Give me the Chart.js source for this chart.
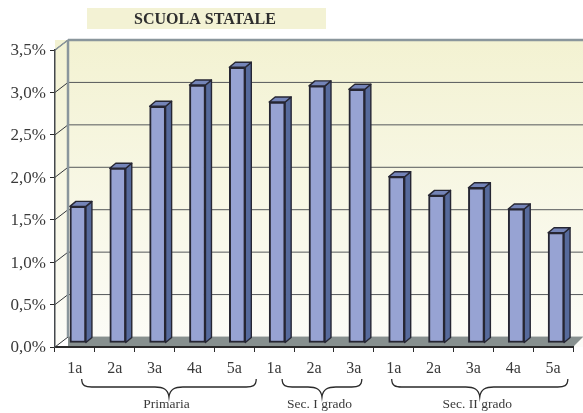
<!DOCTYPE html>
<html>
<head>
<meta charset="utf-8">
<title>Scuola statale</title>
<script src="https://cdn.jsdelivr.net/npm/chart.js@4/dist/chart.umd.min.js"></script>
<style>
  html, body { margin: 0; padding: 0; background: #fff; }
  canvas { display: block; }
</style>
</head>
<body>
<canvas id="chart" width="583" height="413"></canvas>
<script>
const categories = ["1a", "2a", "3a", "4a", "5a", "1a", "2a", "3a", "1a", "2a", "3a", "4a", "5a"];
const values = [1.61, 2.06, 2.79, 3.04, 3.25, 2.84, 3.03, 2.99, 1.96, 1.74, 1.83, 1.58, 1.30];
const yTickLabels = ["0,0%", "0,5%", "1,0%", "1,5%", "2,0%", "2,5%", "3,0%", "3,5%"];
const titleText = "SCUOLA STATALE";
const groupNames = ["Primaria", "Sec. I grado", "Sec. II grado"];
const groupFrom = [0.17, 5.2, 7.95];
const groupTo = [4.55, 7.2, 12.37];

const serif = "'Liberation Serif', serif";
const textColor = "#3a3a3a";
const edgeColor = "#262633";
// depth of the fake 3d box
const wallDx = 13, wallDy = 10;
const barShiftX = 3, barShiftY = 4;
const barDx = 6, barDy = 5;

const line = (ctx, x1, y1, x2, y2) => {
  ctx.beginPath();
  ctx.moveTo(x1, y1);
  ctx.lineTo(x2, y2);
  ctx.stroke();
};

const box3d = {
  id: "box3d",
  beforeDraw(chart) {
    const { ctx, chartArea: a, scales: { y } } = chart;
    const right = a.right + wallDx - 3;
    const topWall = y.getPixelForValue(3.5) - wallDy;
    const backBottom = a.bottom - wallDy;
    const backX = a.left + wallDx;
    ctx.save();

    // title band
    ctx.fillStyle = "#f3f2d4";
    ctx.fillRect(87, 8, 239, 21);
    ctx.fillStyle = "#2e2e2e";
    ctx.font = "bold 16px " + serif;
    ctx.textAlign = "center";
    ctx.textBaseline = "middle";
    ctx.fillText(titleText, 205, 20);

    // walls
    const wall = ctx.createLinearGradient(0, topWall, 0, a.bottom);
    wall.addColorStop(0, "#f3f2d2");
    wall.addColorStop(1, "#fcfcf8");
    ctx.fillStyle = wall;
    ctx.fillRect(a.left, topWall, right - a.left, a.bottom - topWall);

    // white corner under the side wall
    ctx.fillStyle = "#ffffff";
    ctx.beginPath();
    ctx.moveTo(a.left, a.bottom);
    ctx.lineTo(backX, backBottom);
    ctx.lineTo(backX, a.bottom);
    ctx.closePath();
    ctx.fill();

    // grid on the back wall + slanted part on the side wall
    ctx.lineWidth = 1;
    y.ticks.forEach(t => {
      const py = y.getPixelForValue(t.value);
      if (t.value > 0 && t.value < 3.5) {
        ctx.strokeStyle = "#55585a";
        line(ctx, backX, py - wallDy, right, py - wallDy);
      }
      ctx.strokeStyle = "#33363a";
      line(ctx, a.left, py, backX, py - wallDy);
    });

    // floor
    ctx.fillStyle = "#87908f";
    ctx.beginPath();
    ctx.moveTo(backX, backBottom);
    ctx.lineTo(right, backBottom);
    ctx.lineTo(a.right, a.bottom);
    ctx.lineTo(backX, a.bottom);
    ctx.closePath();
    ctx.fill();
    ctx.strokeStyle = "#c9cdca";
    ctx.lineWidth = 1;
    line(ctx, backX, backBottom - 0.5, right, backBottom - 0.5);

    // thick grey edges of the back wall
    ctx.strokeStyle = "#8a969c";
    ctx.lineWidth = 2.5;
    line(ctx, backX, topWall, right, topWall);
    line(ctx, backX, topWall, backX, backBottom);
    ctx.lineWidth = 1.5;
    line(ctx, a.left, y.getPixelForValue(3.5), backX, topWall);
    ctx.restore();
  },
  beforeDatasetDraw(chart) {
    chart.ctx.save();
    chart.ctx.translate(barShiftX, -barShiftY);
  },
  afterDatasetDraw(chart, args) {
    const ctx = chart.ctx;
    ctx.strokeStyle = edgeColor;
    ctx.lineWidth = 1.4;
    ctx.lineJoin = "round";
    args.meta.data.forEach(bar => {
      const l = bar.x - bar.width / 2, r = bar.x + bar.width / 2;
      const t = bar.y, b = bar.base;
      ctx.fillStyle = "#566a9c";
      ctx.beginPath();
      ctx.moveTo(r, t);
      ctx.lineTo(r + barDx, t - barDy);
      ctx.lineTo(r + barDx, b - barDy);
      ctx.lineTo(r, b);
      ctx.closePath();
      ctx.fill();
      ctx.stroke();
      ctx.fillStyle = "#7484b8";
      ctx.beginPath();
      ctx.moveTo(l, t);
      ctx.lineTo(l + barDx, t - barDy);
      ctx.lineTo(r + barDx, t - barDy);
      ctx.lineTo(r, t);
      ctx.closePath();
      ctx.fill();
      ctx.stroke();
    });
    ctx.restore();
  },
  afterDraw(chart) {
    const { ctx, scales: { x } } = chart;
    ctx.save();
    ctx.strokeStyle = "#2a2a2a";
    ctx.lineWidth = 1.3;
    ctx.fillStyle = textColor;
    ctx.font = "13.5px " + serif;
    ctx.textAlign = "center";
    ctx.textBaseline = "middle";
    groupNames.forEach((name, i) => {
      const x1 = x.getPixelForValue(groupFrom[i]);
      const x2 = x.getPixelForValue(groupTo[i]);
      const mid = (x1 + x2) / 2;
      // curly brace under the group
      const top = 379, low = 387, tip = 397;
      ctx.beginPath();
      ctx.moveTo(x1, top);
      ctx.bezierCurveTo(x1, low - 1, x1 + 4, low, x1 + 10, low);
      ctx.lineTo(mid - 14, low);
      ctx.bezierCurveTo(mid - 6, low, mid - 1, low + 2, mid, tip);
      ctx.bezierCurveTo(mid + 1, low + 2, mid + 6, low, mid + 14, low);
      ctx.lineTo(x2 - 10, low);
      ctx.bezierCurveTo(x2 - 4, low, x2, low - 1, x2, top);
      ctx.stroke();
      ctx.fillText(name, mid - 2.5, 404.5);
    });
    ctx.restore();
  }
};

new Chart(document.getElementById("chart"), {
  type: "bar",
  data: {
    labels: categories,
    datasets: [{
      data: values,
      backgroundColor: "#97a3d3",
      borderColor: edgeColor,
      borderWidth: 2,
      borderSkipped: false,
      barThickness: 16,
      clip: false
    }]
  },
  options: {
    responsive: false,
    animation: false,
    layout: { padding: { top: 50, right: 10, left: 0, bottom: 0 } },
    plugins: {
      legend: { display: false },
      title: { display: false },
      tooltip: { enabled: false }
    },
    scales: {
      x: {
        afterFit: s => { s.height = 66; },
        grid: { display: true, drawOnChartArea: false, drawTicks: true, tickLength: 5, color: "#2a2a2a" },
        border: { color: "#2a2a2a", width: 2 },
        ticks: {
          color: textColor,
          padding: 7,
          maxRotation: 0,
          autoSkip: false,
          font: { family: serif, size: 16 }
        }
      },
      y: {
        min: 0,
        max: 3.5,
        afterFit: s => { s.width = 55; },
        grid: { display: true, drawOnChartArea: false, drawTicks: true, tickLength: 5, color: "#2a2a2a" },
        border: { color: "#44484c", width: 1.5 },
        ticks: {
          stepSize: 0.5,
          color: textColor,
          padding: 4,
          labelOffset: 1,
          font: { family: serif, size: 17 },
          callback: (v, i) => yTickLabels[i]
        }
      }
    }
  },
  plugins: [box3d]
});
</script>
</body>
</html>
